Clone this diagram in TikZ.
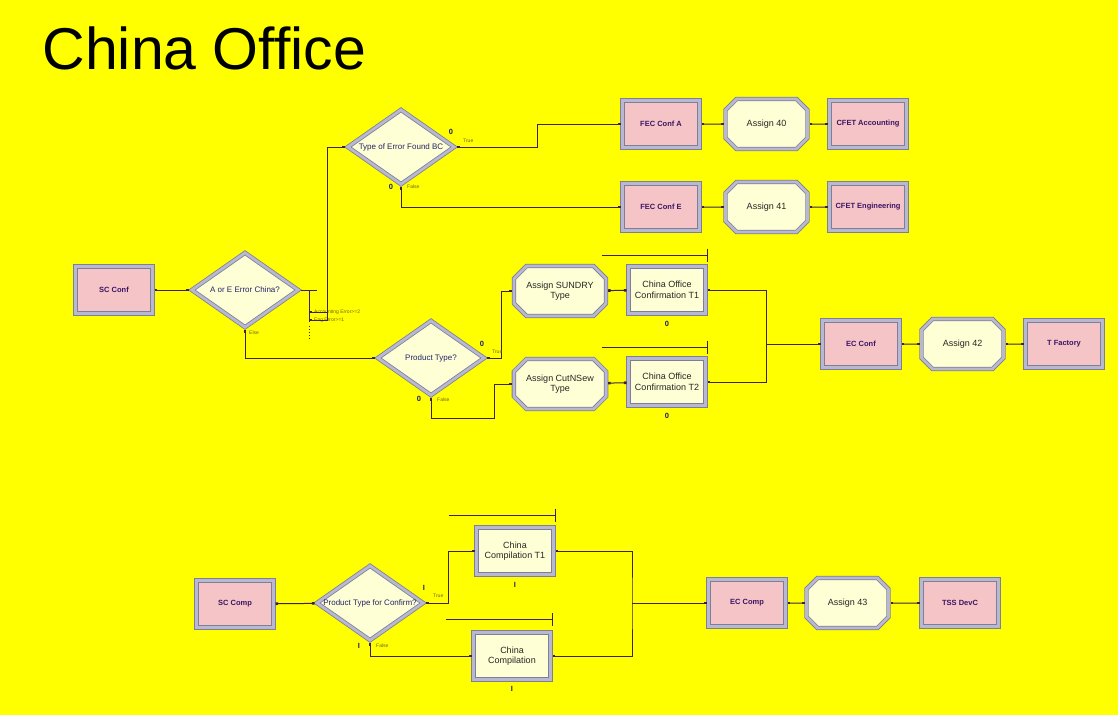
\documentclass[tikz,border=0pt]{standalone}
\usepackage{fontspec}
\setmainfont{Liberation Sans}
\usetikzlibrary{arrows.meta,positioning,shapes.geometric,shapes.misc}
\definecolor{backColor}{HTML}{FFFF00}
\definecolor{processColor}{HTML}{F4C4C6}
\definecolor{assignColor}{HTML}{FFFFD6}
\definecolor{frameDark}{HTML}{7E7E9A}
\definecolor{frameLight}{HTML}{B8B8CE}
\definecolor{labelColor}{HTML}{3C1466}
\definecolor{decideColor}{HTML}{22226A}
\definecolor{wireColor}{HTML}{3A2240}
\definecolor{tagColor}{HTML}{6E6420}
\definecolor{tallyColor}{HTML}{1C1C70}

\begin{document}
\begin{tikzpicture}[x=1pt,y=-1pt,
    >={Square[length=2.6pt,width=2.6pt]},align=center,every node/.style={font=\fontsize{8}{9.5}\selectfont}]
    \tikzstyle{base}=[draw=frameDark,line width=0.8pt,double=frameLight,double distance=2.8pt,outer sep=2pt]
    \tikzstyle{module}=[base,rectangle,minimum width=77pt,minimum height=47pt]
    \tikzstyle{process}=[module,fill=processColor,text=labelColor,font=\fontsize{7.5}{9}\selectfont\bfseries]
    \tikzstyle{record}=[module,fill=assignColor,text=black!85,font=\fontsize{9}{10.5}\selectfont]
    \tikzstyle{assign}=[base,chamfered rectangle,chamfered rectangle xsep=9pt,fill=assignColor,minimum width=82pt,minimum height=50pt,text=black!85,font=\fontsize{9}{10.5}\selectfont]
    \tikzstyle{decide}=[base,diamond,aspect=1.42,inner sep=0pt,fill=assignColor,minimum width=108pt,minimum height=76pt,text=decideColor,font=\fontsize{8}{9}\selectfont]
    \tikzstyle{wire}=[draw=wireColor,line width=1pt]
    \tikzstyle{flow}=[wire,<->]
    \tikzstyle{queue}=[wire,-{Bar[width=13pt]}]
    \tikzstyle{tag}=[text=tagColor,font=\fontsize{5}{5.5}\selectfont,inner sep=1pt]
    \tikzstyle{tally}=[text=tallyColor,font=\fontsize{7.5}{7.5}\selectfont\bfseries,inner sep=0pt]
    % Page
    \fill [backColor] (0,0) rectangle (1118,715);
    \useasboundingbox (0,0) rectangle (1118,715);
    \node (title) [anchor=base west,font=\fontsize{59}{60}\selectfont] at (39,69) {China Office};
    % Confirmation part
    \node (scConf) [process] at (114,290) {SC Conf};
    \node (aeError) [decide] at (245,290) {A or E Error China?};
    \node (typeError) [decide] at (401,147) {Type of Error Found BC};
    \node (fecConfA) [process] at (661,124) {FEC Conf A};
    \node (assign40) [assign,right=22pt of fecConfA] {Assign 40};
    \node (cfetAcc) [process,right=18pt of assign40] {CFET Accounting};
    \node (fecConfE) [process] at (661,207) {FEC Conf E};
    \node (assign41) [assign,right=22pt of fecConfE] {Assign 41};
    \node (cfetEng) [process,right=18pt of assign41] {CFET Engineering};
    \node (productType) [decide] at (431,358) {Product Type?};
    \node (assignSundry) [assign] at (560,291) {Assign SUNDRY\\Type};
    \node (conf1) [record] at (667,290) {China Office\\Confirmation T1};
    \node (assignCut) [assign] at (560,384) {Assign CutNSew\\Type};
    \node (conf2) [record] at (667,382) {China Office\\Confirmation T2};
    \node (ecConf) [process] at (861,344) {EC Conf};
    \node (assign42) [assign,right=18pt of ecConf] {Assign 42};
    \node (tFactory) [process,right=18pt of assign42] {T Factory};
    % Exits of the first decision
    \coordinate (aeBranch) at (309,290);
    \coordinate (accExit) at (309,312);
    \coordinate (engExit) at (309,320);
    \draw [wire] (aeError.east) -- ++(16,0);
    \draw [wire] (aeBranch) -- ([yshift=-2pt]engExit);
    \draw [wire,dotted] ([yshift=-6pt]engExit) -- ([yshift=-20pt]engExit);
    \node (accTag) [tag,anchor=west] at ([xshift=4pt]accExit) {Accounting Error>=2};
    \node (engTag) [tag,anchor=west] at ([xshift=4pt]engExit) {Eng Error>=1};
    \node (elseTag) [tag,anchor=west] at ([xshift=3pt,yshift=-3pt]aeError.south) {Else};
    % Edges
    \draw [flow] (scConf) -- (aeError);
    \draw [flow] (accExit) -- ++(18,0) |- (typeError.west);
    \draw [flow] (engExit) -- ++(18,0) |- (typeError.west);
    \draw [flow] (aeError.south) |- (productType.west);
    \draw [flow] (typeError.east) -- ++(80,0) |- (fecConfA.west);
    \draw [flow] (typeError.south) |- (fecConfE.west);
    \node (trueTagA) [tag,anchor=west] at ([xshift=5pt,yshift=6pt]typeError.east) {True};
    \node (falseTagA) [tag,anchor=west] at ([xshift=5pt]typeError.south) {False};
    \node (tallyA) [tally] at ([xshift=-6pt,yshift=15pt]typeError.east) {0};
    \node (tallyB) [tally] at ([xshift=-10pt]typeError.south) {0};
    \draw [flow] (fecConfA) -- (assign40);
    \draw [flow] (assign40) -- (cfetAcc);
    \draw [flow] (fecConfE) -- (assign41);
    \draw [flow] (assign41) -- (cfetEng);
    \draw [flow] (productType.east) -- ++(14,0) |- (assignSundry.west);
    \draw [flow] (productType.south) |- ([xshift=-17pt,yshift=-34pt]assignCut.west) |- (assignCut.west);
    \node (trueTagB) [tag,anchor=west] at ([xshift=4pt,yshift=6pt]productType.east) {True};
    \node (falseTagB) [tag,anchor=west] at ([xshift=5pt,yshift=-2pt]productType.south) {False};
    \node (tallyC) [tally] at ([xshift=-5pt,yshift=14pt]productType.east) {0};
    \node (tallyD) [tally] at ([xshift=-12pt,yshift=-1pt]productType.south) {0};
    \draw [flow] (assignSundry) -- (conf1);
    \draw [flow] (assignCut) -- (conf2);
    \draw [queue] ([xshift=-106pt,yshift=9.5pt]conf1.north east) -- ([yshift=9.5pt]conf1.north east);
    \draw [queue] ([xshift=-106pt,yshift=9.5pt]conf2.north east) -- ([yshift=9.5pt]conf2.north east);
    \node (tallyT1) [tally,below=6pt of conf1] {0};
    \node (tallyT2) [tally,below=6pt of conf2] {0};
    \coordinate (mergeTop) at (766,344);
    \draw [flow] (conf1.east) -| (mergeTop) |- (conf2.east);
    \draw [wire,->] (mergeTop) -- (ecConf);
    \draw [flow] (ecConf) -- (assign42);
    \draw [flow] (assign42) -- (tFactory);
    % Compilation part
    \node (scComp) [process] at (235,604) {SC Comp};
    \node (confirmType) [decide] at (370,603) {Product Type for Confirm?};
    \node (compT1) [record] at (515,551) {China\\Compilation T1};
    \node (compBase) [record] at (512,656) {China\\Compilation};
    \node (ecComp) [process] at (747,603) {EC Comp};
    \node (assign43) [assign,right=17pt of ecComp] {Assign 43};
    \node (tssDevC) [process,right=29pt of assign43] {TSS DevC};
    \draw [flow] (scComp) -- (confirmType);
    \draw [flow] (confirmType.east) -- ++(22,0) |- (compT1.west);
    \draw [flow] (confirmType.south) |- (compBase.west);
    \node (trueTagC) [tag,anchor=west] at ([xshift=6pt,yshift=7pt]confirmType.east) {True};
    \node (falseTagC) [tag,anchor=west] at ([xshift=5pt,yshift=-3pt]confirmType.south) {False};
    \node (tallyE) [tally] at ([xshift=-2pt,yshift=15pt]confirmType.east) {I};
    \node (tallyF) [tally] at ([xshift=-11pt,yshift=-3pt]confirmType.south) {I};
    \draw [queue] ([xshift=-107pt,yshift=10.5pt]compT1.north east) -- ([yshift=10.5pt]compT1.north east);
    \draw [queue] ([xshift=-107pt,yshift=11pt]compBase.north east) -- ([yshift=11pt]compBase.north east);
    \node (tallyG) [tally,below=6pt of compT1] {I};
    \node (tallyH) [tally,below=5pt of compBase] {I};
    \coordinate (mergeBot) at (632,603);
    \draw [flow] (compT1.east) -| (mergeBot) |- (compBase.east);
    \draw [wire,->] (mergeBot) -- (ecComp);
    \draw [flow] (ecComp) -- (assign43);
    \draw [flow] (assign43) -- (tssDevC);
\end{tikzpicture}
\end{document}
